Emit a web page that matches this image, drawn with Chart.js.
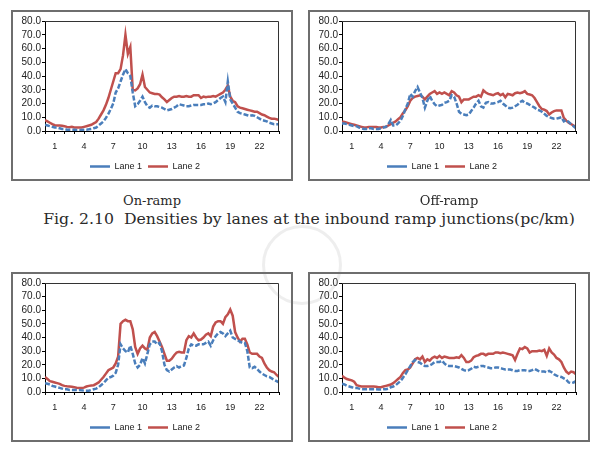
<!DOCTYPE html>
<html>
<head>
<meta charset="utf-8">
<script src="https://cdn.jsdelivr.net/npm/chart.js@4.4.1/dist/chart.umd.min.js"></script>
<style>
  body { margin: 0; background: #fff; width: 600px; height: 449px; position: relative; overflow: hidden; }
  .box { position: absolute; width: 282px; height: 171px; }
  .box.low { height: 170px; }
  .frame { position: absolute; left: 0; top: 0; right: 0; bottom: 0; border: 2px solid #6e6e6e; pointer-events: none; }
  .cap { position: absolute; font-family: 'DejaVu Serif', serif; color: #2a2a2a; white-space: pre; transform: translate(-50%, -50%); }
  .mark { position: absolute; left: 262px; top: 225px; width: 74px; height: 74px; border-radius: 50%;
          border: 3px solid rgba(120,120,120,0.13); pointer-events: none; }
</style>
</head>
<body>

<div class="box" style="left:11px;top:10px"><canvas id="c1"></canvas><div class="frame"></div></div>
<div class="box" style="left:308px;top:10px"><canvas id="c2"></canvas><div class="frame"></div></div>
<div class="box low" style="left:11px;top:272px"><canvas id="c3"></canvas><div class="frame"></div></div>
<div class="box low" style="left:308px;top:272px"><canvas id="c4"></canvas><div class="frame"></div></div>

<div class="cap" style="left:152px;top:200px;font-size:13px">On-ramp</div>
<div class="cap" style="left:449px;top:200px;font-size:13px">Off-ramp</div>
<div class="cap" style="left:309px;top:218px;font-size:15.7px">Fig. 2.10  Densities by lanes at the inbound ramp junctions(pc/km)</div>
<div class="mark"></div>

<script>
// time of day (hours), 15 min steps
var hours = [
  0, 0.25, 0.5, 0.75, 1, 1.25, 1.5, 1.75, 2, 2.25, 2.5, 2.75, 3, 3.25, 3.5, 3.75,
  4, 4.25, 4.5, 4.75, 5, 5.25, 5.5, 5.75, 6, 6.25, 6.5, 6.75, 7, 7.25, 7.5, 7.75,
  8, 8.25, 8.5, 8.75, 9, 9.25, 9.5, 9.75, 10, 10.25, 10.5, 10.75, 11, 11.25, 11.5, 11.75,
  12, 12.25, 12.5, 12.75, 13, 13.25, 13.5, 13.75, 14, 14.25, 14.5, 14.75, 15, 15.25, 15.5, 15.75,
  16, 16.25, 16.5, 16.75, 17, 17.25, 17.5, 17.75, 18, 18.25, 18.5, 18.75, 19, 19.25, 19.5, 19.75,
  20, 20.25, 20.5, 20.75, 21, 21.25, 21.5, 21.75, 22, 22.25, 22.5, 22.75, 23, 23.25, 23.5, 23.75, 24
];
var hourLabels = [1, 4, 7, 10, 13, 16, 19, 22];
var seriesNames = ['Lane 1', 'Lane 2'];

// inbound, on-ramp
var inOnLane1 = [
  4.5, 4.0, 3.5, 3.0, 2.5, 2.5, 2.0, 1.5, 1.5, 1.0, 1.0, 1.0, 1.0, 0.8, 0.8, 0.8,
  1.0, 1.0, 1.2, 1.5, 2.0, 2.5, 4.0, 5.5, 7.0, 9.5, 12.5, 16.0, 20.0, 28.0, 31.0, 36.0,
  41.0, 45.0, 42.0, 40.0, 28.0, 18.0, 19.5, 22.0, 25.0, 21.0, 18.0, 17.0, 18.5, 18.0, 18.0, 17.5,
  17.0, 16.0, 15.0, 15.5, 16.0, 17.0, 18.0, 19.5, 19.0, 18.5, 18.0, 18.0, 18.5, 19.0, 19.0, 19.0,
  19.0, 19.5, 19.5, 20.0, 19.5, 20.0, 21.0, 22.5, 24.0, 25.0, 21.0, 36.0, 23.0, 20.0, 17.0, 14.0,
  13.0, 12.5, 12.0, 11.5, 11.0, 11.5, 11.0, 10.0, 9.0, 8.0, 7.5, 7.0, 6.0, 5.5, 5.0, 5.0, 5.0
];
var inOnLane2 = [
  8.0, 7.0, 6.0, 5.0, 4.2, 4.0, 4.0, 3.8, 3.5, 3.0, 2.8, 3.0, 2.6, 2.5, 2.6, 2.5,
  3.0, 3.5, 4.0, 4.5, 5.5, 6.5, 9.0, 12.0, 15.0, 19.0, 24.0, 30.0, 36.0, 42.0, 42.0, 45.0,
  55.0, 70.0, 56.0, 61.0, 30.0, 29.5, 31.0, 34.0, 41.0, 32.0, 30.0, 28.0, 27.5, 27.0, 27.0, 26.5,
  24.5, 23.0, 21.0, 22.5, 24.0, 25.0, 25.0, 25.5, 25.0, 25.0, 25.5, 25.0, 25.0, 26.0, 26.0, 26.0,
  24.0, 25.0, 24.5, 25.0, 25.0, 25.5, 25.0, 26.0, 27.0, 28.0, 30.0, 33.0, 25.0, 22.0, 21.0, 18.0,
  17.0, 16.5, 16.0, 15.5, 15.0, 14.5, 14.0, 14.0, 13.0, 12.0, 11.5, 10.5, 9.5, 9.0, 9.0, 8.5, 8.0
];

// inbound, off-ramp
var inOffLane1 = [
  5.5, 5.5, 5.0, 4.5, 4.0, 3.5, 3.5, 2.5, 2.0, 1.5, 1.5, 2.0, 2.0, 1.5, 1.5, 1.5,
  2.0, 2.5, 3.0, 5.0, 8.0, 4.0, 4.0, 5.5, 7.5, 11.0, 16.0, 20.0, 27.0, 25.0, 29.0, 32.0,
  28.0, 24.0, 17.0, 22.0, 25.5, 22.0, 19.5, 18.0, 18.5, 19.0, 20.5, 21.0, 22.0, 26.0, 25.0, 20.0,
  14.0, 12.5, 12.0, 11.5, 12.0, 14.5, 17.0, 20.0, 22.0, 18.0, 17.0, 20.5, 21.0, 20.0, 20.0, 20.5,
  21.0, 22.0, 20.0, 18.5, 17.0, 16.5, 17.0, 18.0, 19.0, 21.0, 22.0, 20.5, 20.0, 19.0, 18.0, 17.0,
  15.5, 15.0, 14.0, 12.5, 11.0, 10.0, 9.5, 9.0, 9.0, 9.5, 10.0, 7.0, 8.0, 6.5, 5.0, 3.5, 2.0
];
var inOffLane2 = [
  7.0, 6.5, 6.0, 5.5, 5.0, 4.5, 4.0, 3.5, 3.0, 2.5, 2.5, 3.0, 3.0, 3.0, 3.0, 2.5,
  2.5, 3.0, 3.0, 4.0, 5.0, 6.0, 7.0, 8.5, 10.0, 13.0, 15.0, 18.0, 22.0, 24.0, 25.0, 25.5,
  26.0, 25.0, 23.0, 25.0, 27.0, 28.0, 29.0, 27.0, 28.0, 27.0, 28.0, 27.0, 26.0, 29.0, 28.0, 26.0,
  25.0, 21.0, 23.0, 23.0, 23.0, 24.0, 25.0, 25.0, 26.0, 25.0, 29.5, 28.0, 27.0, 26.5, 26.0, 27.0,
  27.5, 26.0, 27.0, 24.5, 27.0, 26.5, 26.0, 27.5, 28.0, 27.5, 28.0, 29.0, 27.0, 26.5, 26.0, 24.0,
  21.0, 18.0, 16.0, 15.5, 14.5, 12.0, 13.5, 14.5, 15.0, 15.0, 15.0, 9.5, 7.5, 6.0, 5.0, 4.0, 3.0
];

// outbound, on-ramp
var outOnLane1 = [
  6.5, 6.0, 5.5, 4.5, 4.0, 3.5, 3.0, 2.5, 2.0, 2.0, 1.5, 1.5, 1.5, 1.5, 1.5, 1.2,
  1.0, 1.0, 1.0, 1.5, 2.0, 2.5, 3.5, 5.0, 6.5, 8.5, 10.5, 11.0, 12.0, 14.0, 20.0, 35.0,
  32.0, 30.0, 29.0, 34.0, 28.0, 21.0, 18.0, 20.0, 25.0, 21.0, 28.0, 35.0, 37.0, 37.0, 35.0, 36.0,
  30.0, 20.0, 16.0, 15.0, 16.5, 18.0, 19.0, 18.0, 19.0, 19.5, 25.0, 32.0, 35.0, 34.0, 34.0, 35.0,
  35.0, 35.0, 36.0, 37.0, 34.0, 38.0, 41.0, 43.0, 44.0, 43.0, 41.0, 43.0, 45.0, 40.0, 39.0, 38.0,
  37.0, 36.0, 36.0, 30.0, 18.0, 17.5, 18.5, 17.0, 15.0, 13.5, 12.5, 11.5, 11.0, 10.0, 9.0, 8.0, 7.0
];
var outOnLane2 = [
  11.0, 9.5, 8.0, 7.5, 7.0, 6.5, 6.0, 5.0, 4.5, 4.2, 4.0, 3.8, 3.5, 3.2, 3.0, 3.0,
  3.2, 4.0, 4.5, 4.8, 5.0, 6.0, 7.0, 9.0, 11.0, 13.5, 16.0, 17.0, 18.0, 21.0, 26.0, 50.0,
  52.0, 53.0, 52.0, 52.0, 46.0, 33.0, 28.0, 32.0, 34.0, 32.0, 31.0, 40.0, 43.0, 44.0, 41.0, 37.0,
  33.0, 28.0, 23.0, 23.0, 24.5, 27.0, 29.0, 29.5, 29.0, 29.0, 38.0, 41.0, 40.0, 43.0, 40.0, 38.0,
  38.5, 40.0, 42.0, 43.0, 41.0, 48.0, 51.0, 52.0, 52.0, 50.0, 55.0, 57.0, 60.5, 56.0, 44.0, 40.0,
  37.0, 39.0, 39.0, 35.0, 29.0, 28.0, 28.0, 28.0, 26.0, 25.0, 21.0, 18.0, 16.0, 15.0, 14.5, 12.5, 11.0
];

// outbound, off-ramp
var outOffLane1 = [
  6.0, 5.5, 4.5, 4.0, 3.5, 3.0, 3.0, 2.5, 2.0, 2.0, 2.0, 2.0, 2.0, 2.0, 2.0, 1.8,
  1.8, 2.0, 2.0, 2.5, 3.5, 4.0, 5.0, 6.5, 8.0, 10.5, 13.0, 16.0, 19.0, 22.0, 23.5, 22.0,
  21.5, 20.0, 19.0, 19.0, 19.5, 20.5, 22.0, 22.0, 22.0, 23.0, 21.0, 19.5, 19.0, 19.0, 19.0, 18.5,
  18.0, 17.0, 16.0, 15.5, 16.0, 17.0, 18.5, 18.0, 18.5, 19.0, 19.0, 18.5, 18.0, 17.5, 17.5, 18.0,
  18.0, 17.5, 17.0, 16.5, 16.5, 16.5, 16.0, 15.5, 15.5, 16.0, 16.0, 16.0, 15.5, 15.5, 16.0, 17.0,
  16.0, 15.0, 15.0, 15.0, 14.5, 15.5, 14.5, 13.0, 12.0, 11.5, 11.0, 10.0, 9.0, 7.0, 6.5, 7.0, 8.0
];
var outOffLane2 = [
  12.0, 10.5, 9.5, 9.0, 8.5, 7.5, 5.0, 4.5, 4.0, 4.0, 4.0, 4.0, 4.0, 4.0, 3.8, 3.5,
  3.5, 4.0, 4.5, 5.0, 5.5, 6.5, 8.0, 9.5, 11.0, 14.0, 16.0, 16.5, 18.0, 21.0, 24.0, 25.0,
  24.0, 26.0, 22.0, 24.0, 23.0, 25.0, 26.0, 25.0, 26.5, 25.0, 26.0, 25.5, 25.0, 25.0, 25.0, 25.5,
  25.0, 27.0, 25.0, 22.0, 22.0, 23.0, 25.5, 26.5, 27.0, 28.0, 28.0, 27.0, 28.0, 28.0, 28.0, 29.0,
  29.0, 28.5, 29.0, 28.5, 28.0, 27.5, 27.0, 23.5, 28.0, 32.0, 31.5, 33.0, 32.0, 29.0, 30.0, 30.0,
  30.0, 30.5, 30.0, 31.0, 26.5, 32.0, 29.0, 27.5, 25.0, 24.0, 22.0, 18.0, 15.0, 13.5, 15.0, 14.5, 13.0
];

function toPoints(values) {
  return values.map(function(v, i) { return { x: hours[i], y: v }; });
}

var plotFrame = {
  id: 'plotFrame',
  afterDraw: function(chart) {
    var a = chart.chartArea, ctx = chart.ctx;
    ctx.save();
    ctx.strokeStyle = '#333';
    ctx.lineWidth = 1;
    ctx.beginPath();
    ctx.moveTo(a.left, a.top + 0.5);
    ctx.lineTo(a.right - 0.5, a.top + 0.5);
    ctx.lineTo(a.right - 0.5, a.bottom);
    ctx.stroke();
    ctx.restore();
  }
};

function drawDensityChart(id, lane1, lane2) {
  return new Chart(document.getElementById(id), {
    type: 'line',
    data: {
      datasets: [
        {
          label: seriesNames[0],
          data: toPoints(lane1),
          borderColor: '#4a7ebb',
          backgroundColor: '#4a7ebb',
          borderWidth: 2.5,
          borderDash: [5, 2],
          pointRadius: 0,
          tension: 0
        },
        {
          label: seriesNames[1],
          data: toPoints(lane2),
          borderColor: '#c0504d',
          backgroundColor: '#c0504d',
          borderWidth: 2.5,
          pointRadius: 0,
          tension: 0
        }
      ]
    },
    options: {
      animation: false,
      responsive: true,
      maintainAspectRatio: false,
      layout: { padding: { left: 0, right: 14, top: 11, bottom: 0 } },
      plugins: {
        tooltip: { enabled: false },
        legend: {
          position: 'bottom',
          labels: {
            usePointStyle: true,
            pointStyle: 'line',
            pointStyleWidth: 20,
            padding: 6,
            color: '#222',
            font: { family: "'Liberation Sans', Arial", size: 9 }
          }
        }
      },
      scales: {
        x: {
          type: 'linear',
          min: 0,
          max: 24,
          afterFit: function(scale) { scale.height = 25; },
          border: { display: true, color: '#000', width: 1 },
          grid: { drawOnChartArea: false, drawTicks: true, tickLength: 3, tickColor: '#000' },
          ticks: {
            stepSize: 1,
            autoSkip: false,
            maxRotation: 0,
            padding: 7,
            color: '#222',
            font: { family: "'Liberation Sans', Arial", size: 9 },
            callback: function(value) {
              return hourLabels.indexOf(value) >= 0 ? String(value) : '';
            }
          }
        },
        y: {
          min: 0,
          max: 80,
          afterFit: function(scale) { scale.width = 34; },
          border: { display: true, color: '#000', width: 1 },
          grid: { drawOnChartArea: false, drawTicks: true, tickLength: 3, tickColor: '#000' },
          ticks: {
            stepSize: 10,
            autoSkip: false,
            padding: 1,
            color: '#222',
            font: { family: "'Liberation Sans', Arial", size: 10 },
            callback: function(value) { return value.toFixed(1); }
          }
        }
      }
    },
    plugins: [plotFrame]
  });
}

drawDensityChart('c1', inOnLane1, inOnLane2);
drawDensityChart('c2', inOffLane1, inOffLane2);
drawDensityChart('c3', outOnLane1, outOnLane2);
drawDensityChart('c4', outOffLane1, outOffLane2);
</script>
</body>
</html>
